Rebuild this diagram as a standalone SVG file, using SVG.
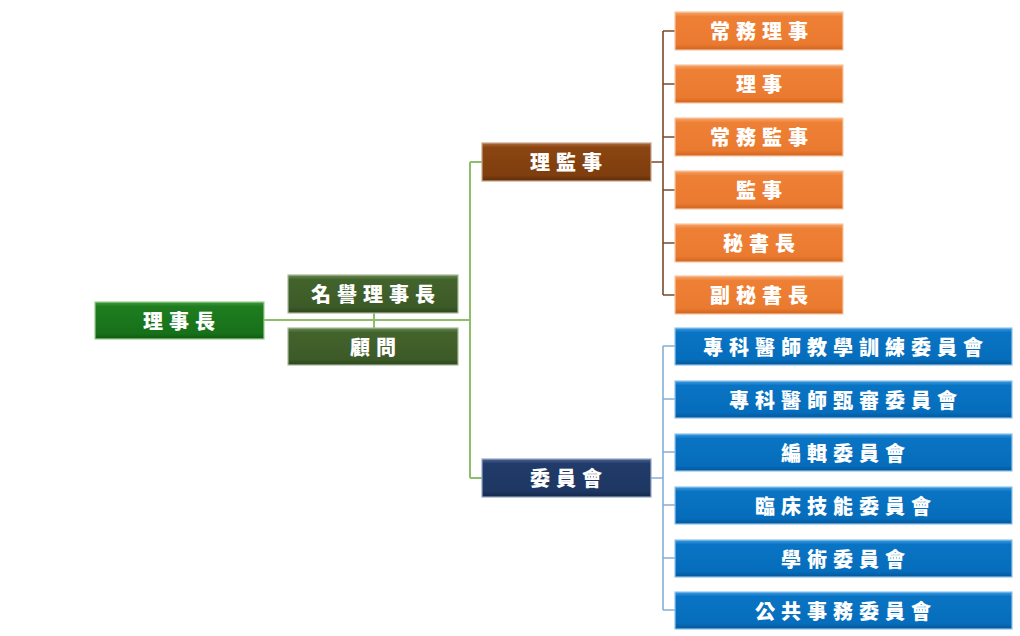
<svg xmlns="http://www.w3.org/2000/svg" width="1020" height="636" viewBox="0 0 1020 636">
<defs>
<linearGradient id="gGreen" x1="0" y1="0" x2="0" y2="1"><stop offset="0" stop-color="#3f9a3f"/><stop offset="0.12" stop-color="#1f7d1f"/><stop offset="0.85" stop-color="#17701a"/><stop offset="1" stop-color="#0f5a12"/></linearGradient>
<linearGradient id="gOlive" x1="0" y1="0" x2="0" y2="1"><stop offset="0" stop-color="#6a8a55"/><stop offset="0.12" stop-color="#43632c"/><stop offset="0.85" stop-color="#3c5a27"/><stop offset="1" stop-color="#2c451c"/></linearGradient>
<linearGradient id="gBrown" x1="0" y1="0" x2="0" y2="1"><stop offset="0" stop-color="#b06a3c"/><stop offset="0.12" stop-color="#8a4512"/><stop offset="0.85" stop-color="#7f3e0e"/><stop offset="1" stop-color="#5e2c08"/></linearGradient>
<linearGradient id="gOrange" x1="0" y1="0" x2="0" y2="1"><stop offset="0" stop-color="#f6a66c"/><stop offset="0.12" stop-color="#ee8035"/><stop offset="0.85" stop-color="#ea7a2f"/><stop offset="1" stop-color="#cf6420"/></linearGradient>
<linearGradient id="gNavy" x1="0" y1="0" x2="0" y2="1"><stop offset="0" stop-color="#4a6394"/><stop offset="0.12" stop-color="#213b6a"/><stop offset="0.85" stop-color="#1e3763"/><stop offset="1" stop-color="#14274a"/></linearGradient>
<linearGradient id="gBlue" x1="0" y1="0" x2="0" y2="1"><stop offset="0" stop-color="#3e9be0"/><stop offset="0.12" stop-color="#0a74c4"/><stop offset="0.85" stop-color="#056dbb"/><stop offset="1" stop-color="#04579a"/></linearGradient>
</defs>
<style>
.t{font-family:"Noto Sans CJK TC","Noto Sans CJK SC",sans-serif;font-weight:900;font-size:20px;fill:#fff;text-anchor:middle;dominant-baseline:central;letter-spacing:6px}
.box{stroke-width:1.2}
.cg{stroke:#8dbf6a;stroke-width:2;fill:none}
.cb{stroke:#7a4a2a;stroke-width:1.6;fill:none}
.cl{stroke:#86aed6;stroke-width:1.6;fill:none}
</style>
<g id="connectors">
<path class="cg" d="M264 320 H470 M374 313 V328 M470 162 V478 M470 162 H482 M470 478 H482"/>
<path class="cb" d="M651 162 H663 M663 31 V295 M663 31 H675 M663 84 H675 M663 137 H675 M663 190 H675 M663 243 H675 M663 295 H675"/>
<path class="cl" d="M651 478 H663 M663 346 V610 M663 346 H675 M663 399 H675 M663 452 H675 M663 505 H675 M663 558 H675 M663 610 H675"/>
</g>
<g id="n-chairman"><rect class="box" x="95" y="302" width="169" height="37" fill="url(#gGreen)" stroke="#9ccf8f"/><text class="t" x="182" y="320">理事長</text></g>
<g id="n-honorary"><rect class="box" x="288" y="275" width="170" height="38" fill="url(#gOlive)" stroke="#a7b99a"/><text class="t" x="376" y="293.5">名譽理事長</text></g>
<g id="n-advisor"><rect class="box" x="288" y="328" width="170" height="37" fill="url(#gOlive)" stroke="#a7b99a"/><text class="t" x="376" y="346">顧問</text></g>
<g id="n-board"><rect class="box" x="482" y="143" width="169" height="38" fill="url(#gBrown)" stroke="#c9a58c"/><text class="t" x="569" y="161.5">理監事</text></g>
<g id="n-committee"><rect class="box" x="482" y="459" width="169" height="38" fill="url(#gNavy)" stroke="#97a7c4"/><text class="t" x="569" y="477.5">委員會</text></g>
<g id="n-o1"><rect class="box" x="675" y="12" width="168" height="38" fill="url(#gOrange)" stroke="#f8c7a3"/><text class="t" x="762" y="30.5">常務理事</text></g>
<g id="n-o2"><rect class="box" x="675" y="65" width="168" height="38" fill="url(#gOrange)" stroke="#f8c7a3"/><text class="t" x="762" y="83.5">理事</text></g>
<g id="n-o3"><rect class="box" x="675" y="118" width="168" height="38" fill="url(#gOrange)" stroke="#f8c7a3"/><text class="t" x="762" y="136.5">常務監事</text></g>
<g id="n-o4"><rect class="box" x="675" y="171" width="168" height="38" fill="url(#gOrange)" stroke="#f8c7a3"/><text class="t" x="762" y="189.5">監事</text></g>
<g id="n-o5"><rect class="box" x="675" y="224" width="168" height="38" fill="url(#gOrange)" stroke="#f8c7a3"/><text class="t" x="762" y="242.5">秘書長</text></g>
<g id="n-o6"><rect class="box" x="675" y="276" width="168" height="38" fill="url(#gOrange)" stroke="#f8c7a3"/><text class="t" x="762" y="294.5">副秘書長</text></g>
<g id="n-b1"><rect class="box" x="675" y="328" width="337" height="37" fill="url(#gBlue)" stroke="#8fc3ea"/><text class="t" x="846" y="346">專科醫師教學訓練委員會</text></g>
<g id="n-b2"><rect class="box" x="675" y="381" width="337" height="37" fill="url(#gBlue)" stroke="#8fc3ea"/><text class="t" x="846" y="399">專科醫師甄審委員會</text></g>
<g id="n-b3"><rect class="box" x="675" y="434" width="337" height="37" fill="url(#gBlue)" stroke="#8fc3ea"/><text class="t" x="846" y="452">編輯委員會</text></g>
<g id="n-b4"><rect class="box" x="675" y="487" width="337" height="37" fill="url(#gBlue)" stroke="#8fc3ea"/><text class="t" x="846" y="505">臨床技能委員會</text></g>
<g id="n-b5"><rect class="box" x="675" y="540" width="337" height="37" fill="url(#gBlue)" stroke="#8fc3ea"/><text class="t" x="846" y="558">學術委員會</text></g>
<g id="n-b6"><rect class="box" x="675" y="592" width="337" height="37" fill="url(#gBlue)" stroke="#8fc3ea"/><text class="t" x="846" y="610">公共事務委員會</text></g>
</svg>
